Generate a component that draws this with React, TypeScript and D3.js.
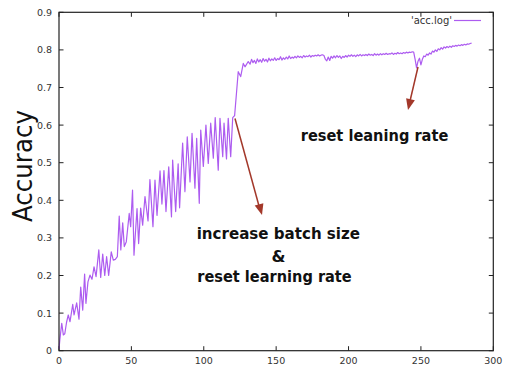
import React from "react";
import * as d3 from "d3";

const phase1Epochs = [
  0, 0.6, 1.9, 3.0, 4.0, 5.2, 6.4, 7.6, 9.5, 10.4, 12.2, 13.8, 15.0, 16.4, 17.7, 18.6, 20.0, 21.4, 22.8, 24.2,
  25.6, 27.5, 28.8, 30.2, 31.6, 32.9, 34.3, 36.1, 37.5, 38.9, 40.3, 41.6, 42.7, 44.0, 45.1, 46.5, 48.5, 49.5,
  50.8, 51.8, 53.9, 55.0, 56.4, 57.8, 59.4, 61.5, 62.8, 64.9, 66.3, 67.7, 69.8, 71.1, 72.5, 73.9, 75.8, 77.7,
  78.5, 80.6, 82.3, 83.3, 85.4, 87.0, 88.6, 90.5, 91.9, 93.9, 95.1, 96.9, 97.9, 99.7, 101.5, 103.1, 104.8,
  106.6, 107.9, 110.0, 111.2, 113.1, 114.0, 115.7, 116.9, 118.6, 120.0, 121.3, 122.7, 123.8, 125.5, 127.3,
  128.5, 130.7,
];
const phase1Acc = [
  0.005, 0.03, 0.073, 0.042, 0.045, 0.075, 0.095, 0.077, 0.123, 0.095, 0.127, 0.084, 0.169, 0.108, 0.204, 0.126,
  0.183, 0.201, 0.19, 0.223, 0.197, 0.268, 0.195, 0.257, 0.2, 0.25, 0.2, 0.263, 0.241, 0.243, 0.25, 0.358, 0.268,
  0.34, 0.277, 0.29, 0.365, 0.33, 0.427, 0.254, 0.378, 0.285, 0.379, 0.334, 0.41, 0.345, 0.455, 0.33, 0.454,
  0.36, 0.478, 0.39, 0.479, 0.37, 0.489, 0.356, 0.507, 0.37, 0.497, 0.38, 0.552, 0.423, 0.569, 0.449, 0.578,
  0.432, 0.565, 0.392, 0.587, 0.49, 0.6, 0.498, 0.605, 0.512, 0.62, 0.48, 0.618, 0.516, 0.605, 0.51, 0.618,
  0.516, 0.62, 0.625, 0.69, 0.742, 0.729, 0.764, 0.755, 0.769,
];

// plateau: one value per epoch, starting at epoch 132
const plateauStart = 132;
const plateauAcc = [
  0.762, 0.775, 0.766, 0.772, 0.764, 0.776, 0.768, 0.774, 0.767, 0.777, 0.77, 0.775, 0.768, 0.778, 0.771, 0.776,
  0.772, 0.779, 0.772, 0.777, 0.774, 0.782, 0.773, 0.779, 0.775, 0.781, 0.776, 0.784, 0.777, 0.781, 0.778, 0.783,
  0.779, 0.784, 0.78, 0.783, 0.779, 0.785, 0.781, 0.784, 0.782, 0.786, 0.781, 0.785, 0.783, 0.786, 0.784, 0.787,
  0.784, 0.786, 0.787, 0.785, 0.775, 0.771, 0.781, 0.772, 0.783, 0.778, 0.784, 0.779, 0.785, 0.78, 0.784, 0.777,
  0.783, 0.78, 0.785, 0.781, 0.786, 0.783, 0.787, 0.783, 0.786, 0.782, 0.787, 0.784, 0.788, 0.784, 0.787, 0.785,
  0.788, 0.785, 0.789, 0.786, 0.788, 0.785, 0.79, 0.786, 0.789, 0.786, 0.79, 0.787, 0.79, 0.788, 0.791, 0.788,
  0.79, 0.789, 0.792, 0.788, 0.791, 0.789, 0.793, 0.79, 0.792, 0.79, 0.793, 0.791, 0.794, 0.792, 0.794, 0.793,
  0.795, 0.794, 0.775, 0.752, 0.77, 0.778, 0.76, 0.775, 0.784, 0.782, 0.789, 0.786, 0.792, 0.789, 0.797, 0.794,
  0.8, 0.796, 0.803, 0.8, 0.806, 0.802, 0.808, 0.805, 0.809, 0.806, 0.81, 0.807, 0.811, 0.809, 0.812, 0.81,
  0.813, 0.811, 0.814, 0.812, 0.815, 0.813, 0.816, 0.815, 0.817, 0.818,
];

const xTicks = [0, 50, 100, 150, 200, 250, 300];
const yTicks = [0, 0.1, 0.2, 0.3, 0.4, 0.5, 0.6, 0.7, 0.8, 0.9];
const legendLabel = "'acc.log'";
const yLabel = "Accuracy";

const W = 505;
const H = 368;
const L = 59;
const R = 493.3;
const T = 12.3;
const B = 350.7;

const LINE = "#ad5cf0";
const ARROW = "#a3382a";
const FONT = "DejaVu Sans, sans-serif";

function arrowHead(x1: number, y1: number, x2: number, y2: number, len: number, half: number) {
  const dx = x2 - x1;
  const dy = y2 - y1;
  const d = Math.hypot(dx, dy);
  const ux = dx / d;
  const uy = dy / d;
  const bx = x2 - ux * len;
  const by = y2 - uy * len;
  const px = -uy * half;
  const py = ux * half;
  return `M${x2},${y2}L${bx + px},${by + py}L${bx - px},${by - py}Z`;
}

export default function App() {
  const x = d3.scaleLinear().domain([0, 300]).range([L, R]);
  const y = d3.scaleLinear().domain([0, 0.9]).range([B, T]);

  const pts: [number, number][] = [];
  phase1Epochs.forEach((e, i) => pts.push([e, phase1Acc[i]]));
  plateauAcc.forEach((v, i) => pts.push([plateauStart + i, v]));

  const line = d3
    .line<[number, number]>()
    .x((d) => x(d[0]))
    .y((d) => y(d[1]));

  const tickLen = 4.5;
  const a1 = [235, 118.5, 262, 215];
  const a2 = [418, 67, 408, 110];

  return (
    <svg
      width={W}
      height={H}
      viewBox={`0 0 ${W} ${H}`}
      style={{ position: "absolute", left: 0, top: 0, background: "#fff" }}
    >
      <rect x={0} y={0} width={W} height={H} fill="#fff" />
      {yTicks.map((t) => (
        <g key={"y" + t}>
          <line x1={L} x2={L + tickLen} y1={y(t)} y2={y(t)} stroke="#222" strokeWidth={1} />
          <line x1={R} x2={R - tickLen} y1={y(t)} y2={y(t)} stroke="#222" strokeWidth={1} />
          <text x={L - 7} y={y(t) + 3.4} textAnchor="end" fontFamily={FONT} fontSize={9.5} fill="#333">
            {t === 0 ? "0" : d3.format(".1f")(t)}
          </text>
        </g>
      ))}
      {xTicks.map((t) => (
        <g key={"x" + t}>
          <line x1={x(t)} x2={x(t)} y1={B} y2={B - tickLen} stroke="#222" strokeWidth={1} />
          <line x1={x(t)} x2={x(t)} y1={T} y2={T + tickLen} stroke="#222" strokeWidth={1} />
          <text x={x(t)} y={364} textAnchor="middle" fontFamily={FONT} fontSize={9.5} fill="#333">
            {t}
          </text>
        </g>
      ))}
      <path d={line(pts) || ""} fill="none" stroke={LINE} strokeWidth={1.2} strokeLinejoin="round" />
      <rect x={L} y={T} width={R - L} height={B - T} fill="none" stroke="#222" strokeWidth={1.2} />
      <text x={452} y={23.5} textAnchor="end" fontFamily={FONT} fontSize={10} fill="#333">
        {legendLabel}
      </text>
      <line x1={454} x2={481} y1={20.5} y2={20.5} stroke={LINE} strokeWidth={1.2} />
      <text
        transform="translate(32,166) rotate(-90)"
        textAnchor="middle"
        fontFamily={FONT}
        fontSize={27}
        fill="#111"
        textLength={112}
        lengthAdjust="spacingAndGlyphs"
      >
        {yLabel}
      </text>
      <line x1={a1[0]} y1={a1[1]} x2={a1[2] - 3} y2={a1[3] - 9} stroke={ARROW} strokeWidth={1.5} />
      <path d={arrowHead(a1[0], a1[1], a1[2], a1[3], 11, 4.5)} fill={ARROW} />
      <line x1={a2[0]} y1={a2[1]} x2={a2[2] + 2} y2={a2[3] - 9} stroke={ARROW} strokeWidth={1.5} />
      <path d={arrowHead(a2[0], a2[1], a2[2], a2[3], 11, 4.5)} fill={ARROW} />
      <g fontFamily={FONT} fontWeight="bold" fontSize={16} fill="#111">
        <text x={300.7} y={140.5} textLength={147.6} lengthAdjust="spacingAndGlyphs">
          reset leaning rate
        </text>
        <text x={196.7} y={239.3} textLength={163.3} lengthAdjust="spacingAndGlyphs">
          increase batch size
        </text>
        <text x={278.6} y={261.5} textAnchor="middle">
          &amp;
        </text>
        <text x={197.3} y={281.5} textLength={154.4} lengthAdjust="spacingAndGlyphs">
          reset learning rate
        </text>
      </g>
    </svg>
  );
}
